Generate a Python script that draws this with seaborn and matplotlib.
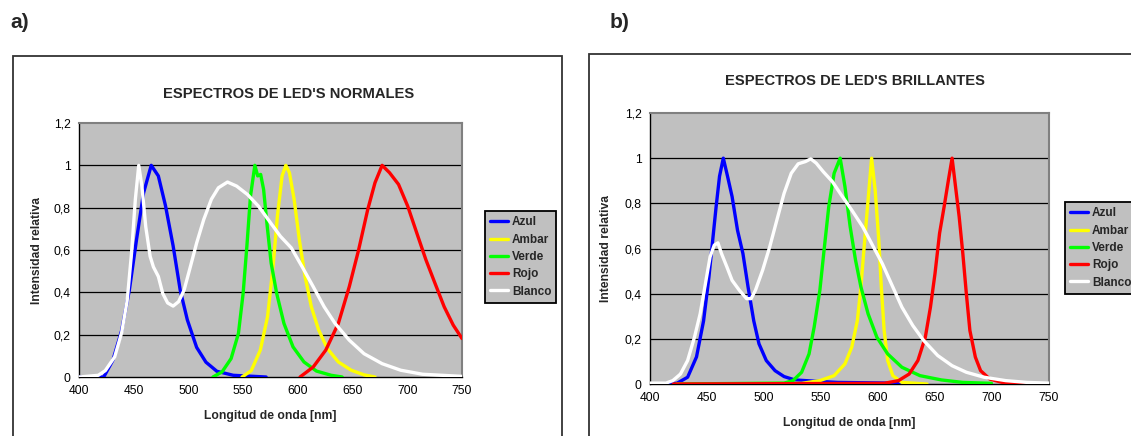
"""
Espectros de LED's normales y brillantes
"""
import matplotlib
matplotlib.use('Agg')
import matplotlib.pyplot as plt
import matplotlib.patches as patches
from matplotlib.ticker import FuncFormatter, MultipleLocator
import seaborn as sns
import pandas as pd

series_names = ['Azul', 'Ambar', 'Verde', 'Rojo', 'Blanco']
series_colors = ['#0000FF', '#FFFF00', '#00FF00', '#FF0000', '#FFFFFF']

# a) LED's normales (wavelength in nm, relative intensity)
norm_azul_nm = [400, 422.6, 431, 439, 446, 452.6, 459, 466, 472.5, 479, 486, 492.5, 499, 507.5, 516, 526, 541, 571]
norm_azul_val = [0, 0, 0.08, 0.22, 0.41, 0.65, 0.87, 1.0, 0.95, 0.81, 0.62, 0.41, 0.27, 0.14, 0.07, 0.027, 0.008, 0]
norm_ambar_nm = [549, 557.4, 565.7, 572.3, 577.3, 581.3, 585.6, 589, 592.3, 596.6, 601.3, 606.6, 612.3, 619, 627, 637, 648.8, 660.5, 670.5]
norm_ambar_val = [0, 0.03, 0.127, 0.285, 0.52, 0.76, 0.95, 1.0, 0.965, 0.839, 0.65, 0.475, 0.332, 0.222, 0.134, 0.071, 0.032, 0.01, 0]
norm_verde_nm = [522.4, 530.7, 539, 545.7, 550, 553.4, 556.7, 560.7, 563.3, 566, 568.7, 572, 575.6, 580.6, 587.3, 595.6, 605.6, 617, 630.5, 640.5]
norm_verde_val = [0, 0.024, 0.087, 0.206, 0.396, 0.617, 0.854, 1.0, 0.95, 0.957, 0.886, 0.712, 0.538, 0.396, 0.253, 0.142, 0.071, 0.028, 0.008, 0]
norm_rojo_nm = [602, 614, 625.5, 637, 647, 655.5, 663.8, 670.5, 677, 683.8, 692, 700.4, 708.7, 717, 725.3, 733.7, 742, 750]
norm_rojo_val = [0, 0.047, 0.127, 0.253, 0.427, 0.60, 0.79, 0.918, 1.0, 0.965, 0.91, 0.807, 0.68, 0.554, 0.443, 0.332, 0.245, 0.182]
norm_blanco_nm = [400, 417.6, 424, 432.6, 439, 444, 448, 451.5, 454.6, 457.5, 461, 465, 468, 472.5, 476.5, 481, 486,
                  491, 496, 501, 507.5, 514, 521, 527.4, 535.7, 544, 554, 564, 574, 584, 594, 604, 614, 624, 634,
                  647, 660.5, 677, 694, 714, 750]
norm_blanco_val = [0, 0.008, 0.03, 0.095, 0.21, 0.36, 0.585, 0.84, 1.0, 0.90, 0.71, 0.57, 0.52, 0.475, 0.395, 0.35, 0.335,
                   0.356, 0.41, 0.506, 0.633, 0.744, 0.84, 0.894, 0.921, 0.902, 0.862, 0.807, 0.736, 0.665, 0.61, 0.52,
                   0.427, 0.332, 0.253, 0.174, 0.11, 0.063, 0.032, 0.013, 0.003]

# b) LED's brillantes
bril_azul_nm = [400, 423.5, 433, 440.8, 447, 451.7, 455, 458, 461, 464.3, 468, 472, 476.8, 481.5, 486, 491, 495.6,
                502, 509.7, 517.6, 527, 542.7, 564.6, 611.7, 627]
bril_azul_val = [0, 0.003, 0.03, 0.12, 0.28, 0.474, 0.637, 0.785, 0.92, 1.0, 0.92, 0.83, 0.68, 0.578, 0.43, 0.28, 0.178,
                 0.104, 0.059, 0.033, 0.018, 0.013, 0.007, 0.004, 0]
bril_ambar_nm = [423.5, 533, 549, 561.5, 571, 577, 581.9, 585, 588.1, 591.3, 594.4, 597.5, 600.7, 602.9, 605.4, 608.5,
                 613, 621, 643]
bril_ambar_val = [0, 0.003, 0.015, 0.037, 0.089, 0.163, 0.281, 0.43, 0.622, 0.815, 1.0, 0.859, 0.637, 0.43, 0.237, 0.104,
                  0.037, 0.007, 0]
bril_verde_nm = [423.5, 517.6, 525.4, 533, 539.5, 544, 549, 552.7, 556.8, 561.5, 566.8, 571, 575.6, 580.3, 585, 591.3,
                 599, 608.5, 621, 636.8, 655.6, 674.4, 699.5]
bril_verde_val = [0, 0.004, 0.015, 0.052, 0.133, 0.252, 0.415, 0.593, 0.785, 0.933, 1.0, 0.874, 0.696, 0.548, 0.43, 0.311,
                  0.207, 0.133, 0.074, 0.037, 0.018, 0.007, 0.003]
bril_rojo_nm = [420.4, 605.4, 618, 627.3, 635, 641.5, 646, 650, 654, 658, 661.8, 665, 668, 671.2, 674.4, 677.5, 680.6,
                685.4, 690, 698, 709, 729]
bril_rojo_val = [0, 0.003, 0.015, 0.044, 0.104, 0.207, 0.34, 0.489, 0.667, 0.785, 0.904, 1.0, 0.874, 0.741, 0.578, 0.4,
                 0.237, 0.119, 0.059, 0.022, 0.007, 0]
bril_blanco_nm = [400, 414, 420, 426.7, 433, 439, 444, 448.6, 452.7, 456.4, 459.6, 462.7, 467.4, 472, 478.4, 484.7, 488.7,
                  492.5, 498.8, 505, 511.3, 517.6, 523.9, 530, 536.4, 541, 545.8, 552, 560, 567.8, 577, 586.6, 596,
                  603.8, 611.7, 621, 630.5, 640, 652.4, 665, 677.5, 693, 712, 730.8, 750]
bril_blanco_val = [0.004, 0.004, 0.015, 0.044, 0.104, 0.207, 0.311, 0.444, 0.563, 0.615, 0.625, 0.578, 0.519, 0.459,
                   0.415, 0.378, 0.378, 0.415, 0.504, 0.607, 0.726, 0.844, 0.933, 0.975, 0.985, 0.997, 0.978, 0.94,
                   0.896, 0.837, 0.77, 0.696, 0.607, 0.533, 0.444, 0.34, 0.259, 0.193, 0.126, 0.081, 0.052, 0.03,
                   0.015, 0.007, 0.004]

W, H = 1131, 436
TICK_SIZE = 8.7
LABEL_SIZE = 8.7


def build_frame(spectra):
    rows = []
    for name, (nm, val) in zip(series_names, spectra):
        for x, y in zip(nm, val):
            rows.append((name, x, y))
    return pd.DataFrame(rows, columns=['serie', 'nm', 'intensidad'])


def comma_fmt(v, pos):
    if abs(v - round(v)) < 1e-9:
        return f'{int(round(v))}'
    return f'{v:.1f}'.replace('.', ',')


def draw_panel(fig, box_px, title, title_px, df, legend_px, xlabel_off, ylabel_off):
    # box_px: left, right, top, bottom of plot area in pixels (from top-left)
    l, r, t, b = box_px
    ax = fig.add_axes([l / W, 1 - b / H, (r - l) / W, (b - t) / H])
    ax.set_facecolor('#C0C0C0')
    for y in [0.2, 0.4, 0.6, 0.8, 1.0]:
        ax.axhline(y, color='black', linewidth=0.9, zorder=1)

    sns.lineplot(data=df, x='nm', y='intensidad', hue='serie', hue_order=series_names,
                 palette=dict(zip(series_names, series_colors)), sort=False, estimator=None,
                 linewidth=2.4, legend=False, ax=ax, zorder=3)

    ax.set_xlim(400, 750)
    ax.set_ylim(0, 1.2)
    ax.xaxis.set_major_locator(MultipleLocator(50))
    ax.yaxis.set_major_locator(MultipleLocator(0.2))
    ax.yaxis.set_major_formatter(FuncFormatter(comma_fmt))
    ax.tick_params(direction='out', length=4, width=1, labelsize=TICK_SIZE, pad=2, colors='black')
    ax.grid(False)

    for side in ['top', 'right']:
        ax.spines[side].set_color('#808080')
        ax.spines[side].set_linewidth(1.5)
    for side in ['left', 'bottom']:
        ax.spines[side].set_color('black')
        ax.spines[side].set_linewidth(1)

    ax.set_xlabel('Longitud de onda [nm]', fontsize=LABEL_SIZE, fontweight='bold', va='center')
    ax.set_ylabel('Intensidad relativa', fontsize=LABEL_SIZE, fontweight='bold', va='center')
    ax.xaxis.set_label_coords(0.5, -xlabel_off / (b - t))
    ax.yaxis.set_label_coords(-ylabel_off / (r - l), 0.5)

    fig.text(title_px[0] / W, 1 - title_px[1] / H, title, fontsize=10.6, fontweight='bold',
             ha='center', va='center')

    handles = [plt.Line2D([], [], color=c, linewidth=2.4) for c in series_colors]
    leg = fig.legend(handles, series_names, loc='center left',
                     bbox_to_anchor=(legend_px[0] / W, 1 - legend_px[1] / H),
                     prop={'weight': 'bold', 'size': 8.5}, frameon=True, fancybox=False,
                     facecolor='#C0C0C0', edgecolor='black', framealpha=1,
                     handlelength=1.55, handletextpad=0.3, labelspacing=0.45, borderpad=0.42,
                     borderaxespad=0)
    leg.get_frame().set_linewidth(1.3)
    return ax


sns.set_style('white')
plt.rcParams['font.family'] = ['Liberation Sans', 'DejaVu Sans']

fig = plt.figure(figsize=(W / 100, H / 100), dpi=100)

# outer chart frames
fig.patches.append(patches.Rectangle((13.5 / W, -0.1), (562 - 13.5) / W, 1.1 - 56 / H,
                                     transform=fig.transFigure, fill=False,
                                     edgecolor='#333333', linewidth=1.3))
fig.patches.append(patches.Rectangle((589 / W, -0.1), 0.6, 1.1 - 54.5 / H,
                                     transform=fig.transFigure, fill=False,
                                     edgecolor='#333333', linewidth=1.3))

df_norm = build_frame([(norm_azul_nm, norm_azul_val), (norm_ambar_nm, norm_ambar_val),
                       (norm_verde_nm, norm_verde_val), (norm_rojo_nm, norm_rojo_val),
                       (norm_blanco_nm, norm_blanco_val)])
df_bril = build_frame([(bril_azul_nm, bril_azul_val), (bril_ambar_nm, bril_ambar_val),
                       (bril_verde_nm, bril_verde_val), (bril_rojo_nm, bril_rojo_val),
                       (bril_blanco_nm, bril_blanco_val)])

draw_panel(fig, (79, 462, 123, 377), "ESPECTROS DE LED'S NORMALES", (289, 94), df_norm,
           (485, 257), 39, 42)
draw_panel(fig, (650, 1049, 113, 384), "ESPECTROS DE LED'S BRILLANTES", (855, 81), df_bril,
           (1065, 248), 39, 44)

fig.text(10 / W, 1 - 23 / H, 'a)', fontsize=15, fontweight='bold', ha='left', va='center')
fig.text(610 / W, 1 - 22 / H, 'b)', fontsize=15, fontweight='bold', ha='left', va='center')

fig.savefig('out.png', dpi=100)
